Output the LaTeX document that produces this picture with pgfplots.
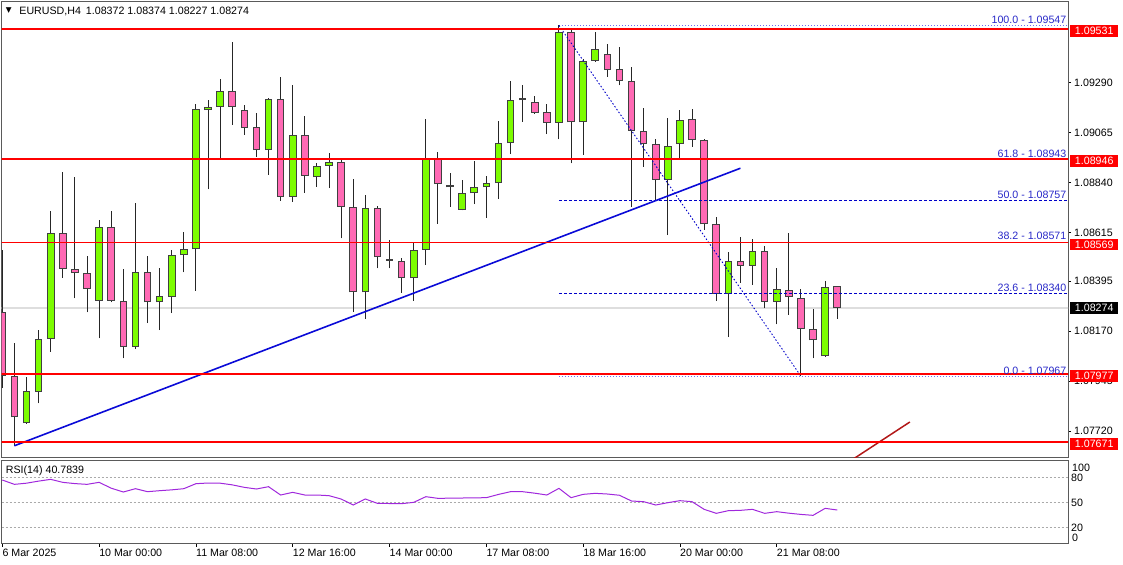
\documentclass[border=0pt]{standalone}
\usepackage{pgfplots}
\pgfplotsset{compat=1.18}
\usepackage{pgfplotstable}
\usepackage{fontspec}
\setmainfont{Liberation Sans}
\newfontfamily\dejavu{DejaVu Sans}
\newcommand{\tf}{\fontsize{10.7}{12}\selectfont}

\definecolor{bull}{RGB}{124,252,0}
\definecolor{bear}{RGB}{255,105,180}
\definecolor{fibdark}{RGB}{0,0,200}
\definecolor{fiblight}{RGB}{110,110,240}
\definecolor{fibtext}{RGB}{40,40,200}
\definecolor{trend}{RGB}{10,10,215}
\definecolor{rsic}{RGB}{160,40,220}
\definecolor{framec}{RGB}{90,90,90}
\definecolor{pline}{RGB}{222,222,222}
\definecolor{dred}{RGB}{178,24,24}
\definecolor{gridc}{RGB}{170,170,170}

\pgfplotstableread{
i o h l c t
0 1.08258 1.08536 1.07914 1.07970 0
1 1.07968 1.08116 1.07654 1.07782 0
2 1.07755 1.07965 1.07753 1.07899 1
3 1.07898 1.08175 1.07845 1.08134 1
4 1.08134 1.08713 1.08078 1.08611 1
5 1.08611 1.08886 1.08411 1.08449 0
6 1.08449 1.08864 1.08318 1.08431 0
7 1.08431 1.08510 1.08255 1.08359 0
8 1.08306 1.08671 1.08138 1.08638 1
9 1.08638 1.08711 1.08300 1.08306 0
10 1.08306 1.08450 1.08048 1.08098 0
11 1.08098 1.08749 1.08089 1.08438 1
12 1.08438 1.08509 1.08206 1.08300 0
13 1.08300 1.08456 1.08175 1.08329 1
14 1.08325 1.08536 1.08251 1.08513 1
15 1.08513 1.08615 1.08435 1.08540 1
16 1.08539 1.09192 1.08352 1.09171 1
17 1.09166 1.09211 1.08809 1.09181 1
18 1.09181 1.09307 1.08949 1.09252 1
19 1.09252 1.09471 1.09099 1.09181 0
20 1.09165 1.09187 1.09054 1.09085 0
21 1.09088 1.09151 1.08956 1.08986 0
22 1.08986 1.09220 1.08874 1.09214 1
23 1.09216 1.09313 1.08758 1.08776 0
24 1.08776 1.09277 1.08753 1.09054 1
25 1.09054 1.09139 1.08794 1.08869 0
26 1.08863 1.08926 1.08821 1.08914 1
27 1.08915 1.08971 1.08814 1.08931 1
28 1.08931 1.08941 1.08588 1.08731 0
29 1.08731 1.08854 1.08258 1.08345 0
30 1.08345 1.08783 1.08224 1.08724 1
31 1.08724 1.08734 1.08453 1.08503 0
32 1.08495 1.08581 1.08453 1.08488 0
33 1.08488 1.08500 1.08343 1.08408 0
34 1.08408 1.08573 1.08306 1.08536 1
35 1.08536 1.09126 1.08468 1.08944 1
36 1.08944 1.08976 1.08653 1.08832 0
37 1.08827 1.08881 1.08731 1.08818 0
38 1.08716 1.08851 1.08714 1.08791 1
39 1.08791 1.08937 1.08742 1.08818 1
40 1.08818 1.08869 1.08681 1.08836 1
41 1.08836 1.09117 1.08765 1.09016 1
42 1.09016 1.09298 1.08968 1.09211 1
43 1.09210 1.09279 1.09114 1.09219 1
44 1.09201 1.09229 1.09148 1.09154 0
45 1.09156 1.09192 1.09058 1.09109 0
46 1.09109 1.09547 1.09034 1.09516 1
47 1.09516 1.09530 1.08926 1.09111 0
48 1.09111 1.09395 1.08964 1.09387 1
49 1.09386 1.09519 1.09384 1.09440 1
50 1.09417 1.09462 1.09316 1.09346 0
51 1.09350 1.09450 1.09277 1.09297 0
52 1.09297 1.09359 1.08731 1.09072 0
53 1.09072 1.09174 1.08911 1.09012 0
54 1.09013 1.09034 1.08761 1.08851 0
55 1.08851 1.09132 1.08603 1.09005 1
56 1.09012 1.09166 1.08949 1.09121 1
57 1.09124 1.09171 1.09001 1.09031 0
58 1.09031 1.09035 1.08626 1.08651 0
59 1.08651 1.08686 1.08307 1.08338 0
60 1.08338 1.08525 1.08143 1.08485 1
61 1.08485 1.08593 1.08388 1.08465 0
62 1.08465 1.08585 1.08379 1.08530 1
63 1.08530 1.08554 1.08273 1.08302 0
64 1.08302 1.08453 1.08201 1.08359 1
65 1.08355 1.08611 1.08243 1.08323 0
66 1.08318 1.08359 1.07967 1.08179 0
67 1.08179 1.08269 1.08048 1.08129 0
68 1.08057 1.08397 1.08055 1.08371 1
69 1.08372 1.08374 1.08227 1.08274 0
}\candles

\pgfplotstableread{
i v
0 76.8
1 71.6
2 73.0
3 75.5
4 77.6
5 74.0
6 72.5
7 71.6
8 74.0
9 67.0
10 62.4
11 66.4
12 62.8
13 64.0
14 65.0
15 66.4
16 72.4
17 73.2
18 73.0
19 71.0
20 68.0
21 66.0
22 68.8
23 58.8
24 62.0
25 58.8
26 58.8
27 58.0
28 54.0
29 46.8
30 54.0
31 48.8
32 48.6
33 48.4
34 50.0
35 56.8
36 54.8
37 55.0
38 55.2
39 55.4
40 55.6
41 59.5
42 62.8
43 62.8
44 61.0
45 58.8
46 66.8
47 55.6
48 59.6
49 60.8
50 60.0
51 58.5
52 51.6
53 50.8
54 46.8
55 49.6
56 52.0
57 50.8
58 41.6
59 36.8
60 40.0
61 40.4
62 41.6
63 36.8
64 38.8
65 37.0
66 35.5
67 34.4
68 42.8
69 40.7839
}\rsi

\pgfplotsset{
  ebar/.style={forget plot, mark=none, draw=none,
    error bars/.cd, y dir=plus, y explicit, error mark=none,
    error bar style={solid, line cap=butt, #1}},
}

\begin{document}
\tf
\begin{tikzpicture}[x=1bp,y=1bp]
\useasboundingbox (0,0) rectangle (1123,565);

\begin{axis}[name=main, scale only axis, width=1066.3bp, height=456.3bp,
  at={(1.7bp,107bp)}, anchor=south west,
  xmin=-0.05, xmax=88.07, ymin=1.075989, ymax=1.09654,
  axis line style={draw=framec, line width=1bp},
  xtick=\empty,
  ytick={1.07720,1.07945,1.08170,1.08395,1.08615,1.08840,1.09065,1.09290},
  yticklabels={1.07720,1.07945,1.08170,1.08395,1.08615,1.08840,1.09065,1.09290},
  ytick pos=right, yticklabel pos=right, tick align=outside, major tick length=3bp,
  ytick style={draw=black, line width=0.8bp},
  yticklabel style={font=\tf, anchor=west, inner sep=0pt, xshift=3bp},
]
% current price line
\addplot[forget plot, pline, line width=2bp] coordinates {(-1,1.08274) (90,1.08274)};
% wicks
\addplot[ebar={draw=black!85, line width=1bp}]
  table[x=i, y=l, y error expr=\thisrow{h}-\thisrow{l}] {\candles};
% body outlines
\addplot[ebar={draw=black!75, line width=7.6bp}]
  table[x=i, y expr={min(\thisrow{o},\thisrow{c})}, y error expr={max(abs(\thisrow{c}-\thisrow{o}),0.00004)}] {\candles};
% bull fill
\addplot[ebar={draw=bull, line width=5.6bp}]
  table[x=i, y expr={min(\thisrow{o},\thisrow{c})+0.000045}, y error expr={\thisrow{t}*max(abs(\thisrow{c}-\thisrow{o})-0.00009,0)}] {\candles};
% bear fill
\addplot[ebar={draw=bear, line width=5.6bp}]
  table[x=i, y expr={min(\thisrow{o},\thisrow{c})+0.000045}, y error expr={(1-\thisrow{t})*max(abs(\thisrow{c}-\thisrow{o})-0.00009,0)}] {\candles};
% fibonacci levels
\addplot[forget plot, fiblight, line width=0.9bp, dash pattern=on 1.5bp off 1.5bp] coordinates {(46,1.09547) (90,1.09547)};
\addplot[forget plot, fiblight, line width=0.9bp, dash pattern=on 1.5bp off 1.5bp] coordinates {(46,1.08943) (90,1.08943)};
\addplot[forget plot, fibdark, line width=0.9bp, dash pattern=on 3bp off 2bp] coordinates {(46,1.08757) (90,1.08757)};
\addplot[forget plot, fiblight, line width=0.9bp, dash pattern=on 1.5bp off 1.5bp] coordinates {(46,1.08571) (90,1.08571)};
\addplot[forget plot, fibdark, line width=0.9bp, dash pattern=on 3bp off 2bp] coordinates {(46,1.08340) (90,1.08340)};
\addplot[forget plot, fiblight, line width=0.9bp, dash pattern=on 1.5bp off 1.5bp] coordinates {(46,1.07967) (90,1.07967)};
\addplot[forget plot, fibdark, line width=0.9bp, dash pattern=on 1.5bp off 2bp] coordinates {(46,1.09547) (66,1.07967)};
% trend lines
\addplot[forget plot, trend, line width=1.6bp] coordinates {(1,1.07654) (61,1.08904)};
\addplot[forget plot, dred, line width=1.5bp] coordinates {(69.5,1.07565) (75,1.07761)};
% red horizontal levels
\addplot[forget plot, red, line width=1.3bp] coordinates {(-1,1.09531) (90,1.09531)};
\addplot[forget plot, red, line width=1.3bp] coordinates {(-1,1.08946) (90,1.08946)};
\addplot[forget plot, red, line width=1.3bp] coordinates {(-1,1.08569) (90,1.08569)};
\addplot[forget plot, red, line width=1.3bp] coordinates {(-1,1.07977) (90,1.07977)};
\addplot[forget plot, red, line width=1.3bp] coordinates {(-1,1.07671) (90,1.07671)};
% fib labels
\foreach \p/\lab in {1.09547/100.0 - 1.09547, 1.08943/61.8 - 1.08943, 1.08757/50.0 - 1.08757, 1.08571/38.2 - 1.08571, 1.08340/23.6 - 1.08340, 1.07967/0.0 - 1.07967}{
  \edef\tmp{\noexpand\node[anchor=base east, inner sep=0pt, text=fibtext, font=\noexpand\tf, xshift=-1.5bp, yshift=2.2bp] at (axis cs:88.07,\p) {\lab};}\tmp
}
\coordinate (b1) at (axis cs:88.07,1.09531);
\coordinate (b2) at (axis cs:88.07,1.08946);
\coordinate (b3) at (axis cs:88.07,1.08569);
\coordinate (b4) at (axis cs:88.07,1.07977);
\coordinate (b5) at (axis cs:88.07,1.07671);
\coordinate (b6) at (axis cs:88.07,1.08274);
\end{axis}

\begin{axis}[name=rsiax, scale only axis, width=1067.3bp, height=83.3bp,
  at={(1.7bp,21bp)}, anchor=south west,
  xmin=-0.05, xmax=88.15, ymin=0, ymax=100,
  axis line style={draw=framec, line width=1bp},
  ytick={20,50,80}, yticklabels={20,50,80},
  ytick pos=right, yticklabel pos=right, ytick style={draw=none},
  ymajorgrids, grid style={gridc, line width=0.7bp, dash pattern=on 2bp off 2bp},
  yticklabel style={font=\tf, anchor=west, inner sep=0pt, xshift=2bp},
  xtick={0,8,16,24,32,40,48,56,64},
  xticklabels={6 Mar 2025,10 Mar 00:00,11 Mar 08:00,12 Mar 16:00,14 Mar 00:00,17 Mar 08:00,18 Mar 16:00,20 Mar 00:00,21 Mar 08:00},
  xtick pos=bottom, xtick align=outside, major tick length=3bp,
  xtick style={draw=black, line width=0.8bp},
  xticklabel style={font=\tf, anchor=north west, inner sep=0pt, yshift=-1.5bp},
]
\addplot[rsic, line width=1bp] table[x=i, y=v] {\rsi};
\end{axis}

% price boxes on the right
\foreach \b/\lab in {b1/1.09531, b2/1.08946, b3/1.08569, b4/1.07977, b5/1.07671}{
  \node[anchor=west, fill=red, text=white, inner sep=0pt, minimum width=48bp, minimum height=11.7bp, font=\tf] at ([xshift=2bp, yshift=-2bp]\b) {\lab};
}
\node[anchor=west, fill=black, text=white, inner sep=0pt, minimum width=48bp, minimum height=11.7bp, font=\tf] at ([xshift=2bp, yshift=0bp]b6) {1.08274};

% RSI extra labels
\node[anchor=west, inner sep=0pt, font=\tf] at ([xshift=3bp, yshift=-7.5bp]rsiax.north east) {100};
\node[anchor=west, inner sep=0pt, font=\tf] at ([xshift=3bp, yshift=6bp]rsiax.south east) {0};
\node[anchor=west, inner sep=0pt, font=\tf] at ([xshift=4bp, yshift=-10bp]rsiax.north west) {RSI(14) 40.7839};

% title
\node[anchor=center, inner sep=0pt] at ([xshift=7bp, yshift=-9bp]main.north west) {\dejavu\fontsize{7.5}{8}\selectfont ▼};
\node[anchor=west, inner sep=0pt, font=\tf] at ([xshift=17.5bp, yshift=-9.5bp]main.north west) {EURUSD,H4\hspace{5bp}1.08372 1.08374 1.08227 1.08274};
\end{tikzpicture}
\end{document}
